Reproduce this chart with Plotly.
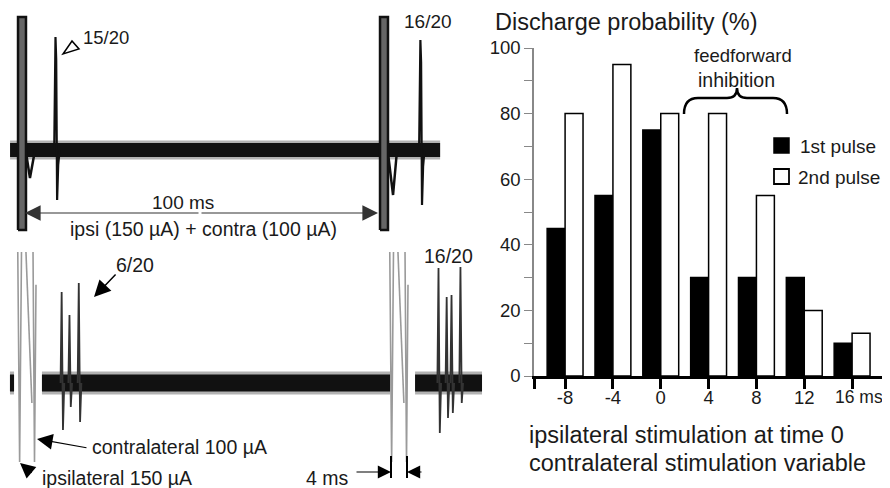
import plotly.graph_objects as go

# ---- bar chart data ----
delay_ms = [-8, -4, 0, 4, 8, 12, 16]
delay_labels = ["-8", "-4", "0", "4", "8", "12", ""]
first_pulse = [45, 55, 75, 30, 30, 30, 10]
second_pulse = [80, 95, 80, 80, 55, 20, 13]
series_names = ["1st pulse", "2nd pulse"]
y_ticks = [0, 10, 20, 30, 40, 50, 60, 70, 80, 90, 100]
y_labels = ["0", "", "20", "", "40", "", "60", "", "80", "", "100"]

# ---- top sweep: ipsi + contra together, 2 stimuli 100 ms apart ----
top_stim_ms = [0, 100]
top_dip_ms = [2.2, 102.5]
top_dip_depth = [-28, -45]
top_spike_ms = [9.4, 110.2]
top_spike_peak = [113, 110]
top_spike_trough = [-50, -55]
top_noise_ms = [-3.3, 115.5]
top_artifact = [-80, 133]
top_counts = ["15/20", "16/20"]

# ---- bottom sweep: ipsi at 0, contra 4 ms later ----
bottom_ipsi_ms = [0, 100]
contra_delay_ms = 4
bottom_spike_ms = [11.3, 13.4, 15.9, 112.6, 114.8, 116.1, 118.5]
bottom_spike_peak = [91, 68, 100, 115, 86, 88, 116]
bottom_spike_trough = [-47, -24, -39, -50, -35, -30, -20]
bottom_noise_ms = [[-2.7, -1.6], [5.9, 99.5], [106.2, 124.2]]
bottom_artifact = [-79, 131]
bottom_counts = ["6/20", "16/20"]

FONT = "Liberation Sans, Arial, sans-serif"
W, H = 890, 488
OX, OY = 8, 8  # page body offset of the plot div


def dom_x(a, b):
    return [(a - OX) / W, (b - OX) / W]


def dom_y(top, bottom):
    return [1 - (bottom - OY) / H, 1 - (top - OY) / H]


fig = go.Figure()

# bars
fig.add_trace(go.Bar(x=delay_ms, y=first_pulse, name=series_names[0],
                     marker=dict(color="black", line=dict(color="black", width=1.5))))
fig.add_trace(go.Bar(x=delay_ms, y=second_pulse, name=series_names[1],
                     marker=dict(color="white", line=dict(color="black", width=1.5))))

# top sweep
tr2 = dict(xaxis="x2", yaxis="y2", mode="lines", hoverinfo="skip", showlegend=False)
fig.add_trace(go.Scatter(x=top_noise_ms, y=[0, 0], line=dict(color="rgba(0,0,0,0.3)", width=19), **tr2))
fig.add_trace(go.Scatter(x=top_noise_ms, y=[0, 0], line=dict(color="#111", width=14), **tr2))
for t, dt, d in zip(top_stim_ms, top_dip_ms, top_dip_depth):
    fig.add_trace(go.Scatter(x=[t + 1.0, dt, t + 3.6], y=[0, d, 0],
                             line=dict(color="#111", width=2.5), **tr2))
    lo, hi = top_artifact
    fig.add_trace(go.Scatter(x=[t - 1.1, t + 1.1, t + 1.1, t - 1.1, t - 1.1],
                             y=[lo, lo, hi, hi, lo], fill="toself", fillcolor="#666",
                             line=dict(color="#111", width=2.5), **tr2))
for ts, p, q in zip(top_spike_ms, top_spike_peak, top_spike_trough):
    fig.add_trace(go.Scatter(x=[ts - 0.5, ts - 0.15, ts + 0.05, ts + 0.3, ts + 0.6, ts + 1.0],
                             y=[0, p, p * 0.8, q, q * 0.3, 0],
                             line=dict(color="#111", width=2.2), **tr2))

# bottom sweep
tr3 = dict(xaxis="x3", yaxis="y3", mode="lines", hoverinfo="skip", showlegend=False)
for seg in bottom_noise_ms:
    fig.add_trace(go.Scatter(x=seg, y=[0, 0], line=dict(color="rgba(0,0,0,0.3)", width=23), **tr3))
    fig.add_trace(go.Scatter(x=seg, y=[0, 0], line=dict(color="#111", width=17), **tr3))
lo, hi = bottom_artifact
for t in bottom_ipsi_ms:
    c = t + contra_delay_ms
    fig.add_trace(go.Scatter(x=[t - 0.6, t - 0.1, t + 0.4, None, t + 1.6, t + 3.2,
                                None, c - 0.5, c - 0.1, c + 0.3],
                             y=[hi, lo, hi, None, hi, -20, None, hi, lo, hi * 0.75],
                             line=dict(color="#9a9a9a", width=1.6), **tr3))
for ts, p, q in zip(bottom_spike_ms, bottom_spike_peak, bottom_spike_trough):
    fig.add_trace(go.Scatter(x=[ts - 0.4, ts - 0.1, ts + 0.25, ts + 0.6],
                             y=[0, p, q, 0],
                             line=dict(color="#333", width=1.8), **tr3))

# empty trace so the pixel overlay axes exist
fig.add_trace(go.Scatter(x=[], y=[], xaxis="x4", yaxis="y4", showlegend=False))


def arrow(x0, y0, x1, y1, w=1.5, size=2.2, color="black"):
    return dict(x=x1, y=y1, ax=x0, ay=y0, xref="x4", yref="y4", axref="x4", ayref="y4",
                showarrow=True, arrowhead=2, arrowwidth=w, arrowsize=size,
                arrowcolor=color, text="")


def label(x, y, text, size=19.5, anchor="center"):
    return dict(x=x, y=y, xref="x4", yref="y4", text=text, showarrow=False,
                xanchor=anchor, yanchor="middle", font=dict(size=size, color="#1a1a1a", family=FONT))


ann = [
    label(81, 37, top_counts[0], size=18.5, anchor="left"),
    label(428, 21, top_counts[1], size=19),
    label(183, 202, "100 ms", size=19),
    label(203, 229, "ipsi (150 µA) + contra (100 µA)"),
    arrow(200, 213, 25, 213, w=1.2, size=2.6, color="#333"),
    arrow(200, 213, 378, 213, w=1.2, size=2.6, color="#333"),
    label(135, 265, bottom_counts[0]),
    arrow(117, 273, 94, 297),
    label(448, 256, bottom_counts[1]),
    label(90, 447, "contralateral 100 µA", anchor="left"),
    arrow(88, 448, 37, 439, w=1.2, size=2.6),
    label(40, 478, "ipsilateral 150 µA", anchor="left"),
    arrow(33, 474, 20, 463, w=1.5, size=2.0),
    label(327, 478, "4 ms"),
    arrow(355, 472, 391, 472, w=1.2, size=2.2),
    arrow(423, 472, 407, 472, w=1.2, size=2.2),
    # right panel text
    label(493, 22, "Discharge probability (%)", size=23.5, anchor="left"),
    label(743, 55, "feedforward", size=18.5),
    label(736, 80, "inhibition", size=19.5),
    label(833, 397, "16 ms", size=17.5, anchor="left"),
    label(527, 435, "ipsilateral stimulation at time 0", size=23.5, anchor="left"),
    label(527, 463, "contralateral stimulation variable", size=23.5, anchor="left"),
    label(798, 146, series_names[0], size=19, anchor="left"),
    label(796, 177, series_names[1], size=19, anchor="left"),
]

shp = dict(xref="x4", yref="y4")
shapes = [
    # open triangle marker for 15/20
    dict(type="path", path="M 63,54 L 72,41 L 79,49 Z", line=dict(color="black", width=1.5),
         fillcolor="white", **shp),
    # 4 ms bracket ticks
    dict(type="line", x0=391, x1=391, y0=456, y1=478, line=dict(color="black", width=2), **shp),
    dict(type="line", x0=407, x1=407, y0=456, y1=478, line=dict(color="black", width=2), **shp),
    # curly brace
    dict(type="path",
         path="M 684,114 Q 684,98 698,98 L 727,98 Q 737,98 737,88 Q 737,98 747,98 L 773,98 Q 787,98 787,114",
         line=dict(color="black", width=2.5), **shp),
    # legend squares
    dict(type="rect", x0=774, x1=789, y0=138, y1=153, fillcolor="black",
         line=dict(color="black", width=1.5), **shp),
    dict(type="rect", x0=774, x1=789, y0=169, y1=184, fillcolor="white",
         line=dict(color="black", width=1.8), **shp),
]

fig.update_layout(
    template="none",
    width=W, height=H,
    margin=dict(l=0, r=0, t=0, b=0, autoexpand=False),
    paper_bgcolor="white", plot_bgcolor="rgba(0,0,0,0)",
    barmode="group", bargap=0.25, bargroupgap=0,
    showlegend=False,
    font=dict(family=FONT, color="#1a1a1a"),
    xaxis=dict(domain=dom_x(534, 882), range=[-10.6, 18.5],
               tickvals=[-10.55] + delay_ms, ticktext=[""] + delay_labels,
               ticks="outside", ticklen=10, tickwidth=3, tickcolor="black",
               ticklabelstandoff=-7,
               showline=True, linecolor="black", linewidth=3, showgrid=False,
               zeroline=False, tickfont=dict(size=18.5), anchor="y", automargin=False),
    yaxis=dict(domain=dom_y(48, 376), range=[0, 100],
               tickvals=y_ticks, ticktext=y_labels,
               ticks="outside", ticklen=8, tickwidth=1.2, tickcolor="#888",
               showline=True, linecolor="#888", linewidth=1.5, showgrid=False,
               zeroline=False, tickfont=dict(size=18.5), anchor="x", automargin=False),
    xaxis2=dict(domain=dom_x(OX, 450), range=[(OX - 22) / 3.62, (450 - 22) / 3.62],
                visible=False, anchor="y2"),
    yaxis2=dict(domain=dom_y(OY, 240), range=[150 - 240, 150 - OY], visible=False, anchor="x2"),
    xaxis3=dict(domain=dom_x(OX, 500), range=[(OX - 20) / 3.72, (500 - 20) / 3.72],
                visible=False, anchor="y3"),
    yaxis3=dict(domain=dom_y(240, H), range=[383 - H, 383 - 240], visible=False, anchor="x3"),
    xaxis4=dict(domain=[0, 1], range=[OX, W + OX], visible=False, anchor="y4"),
    yaxis4=dict(domain=[0, 1], range=[H + OY, OY], visible=False, anchor="x4"),
    annotations=ann,
    shapes=shapes,
)

fig.write_html("out.html")
